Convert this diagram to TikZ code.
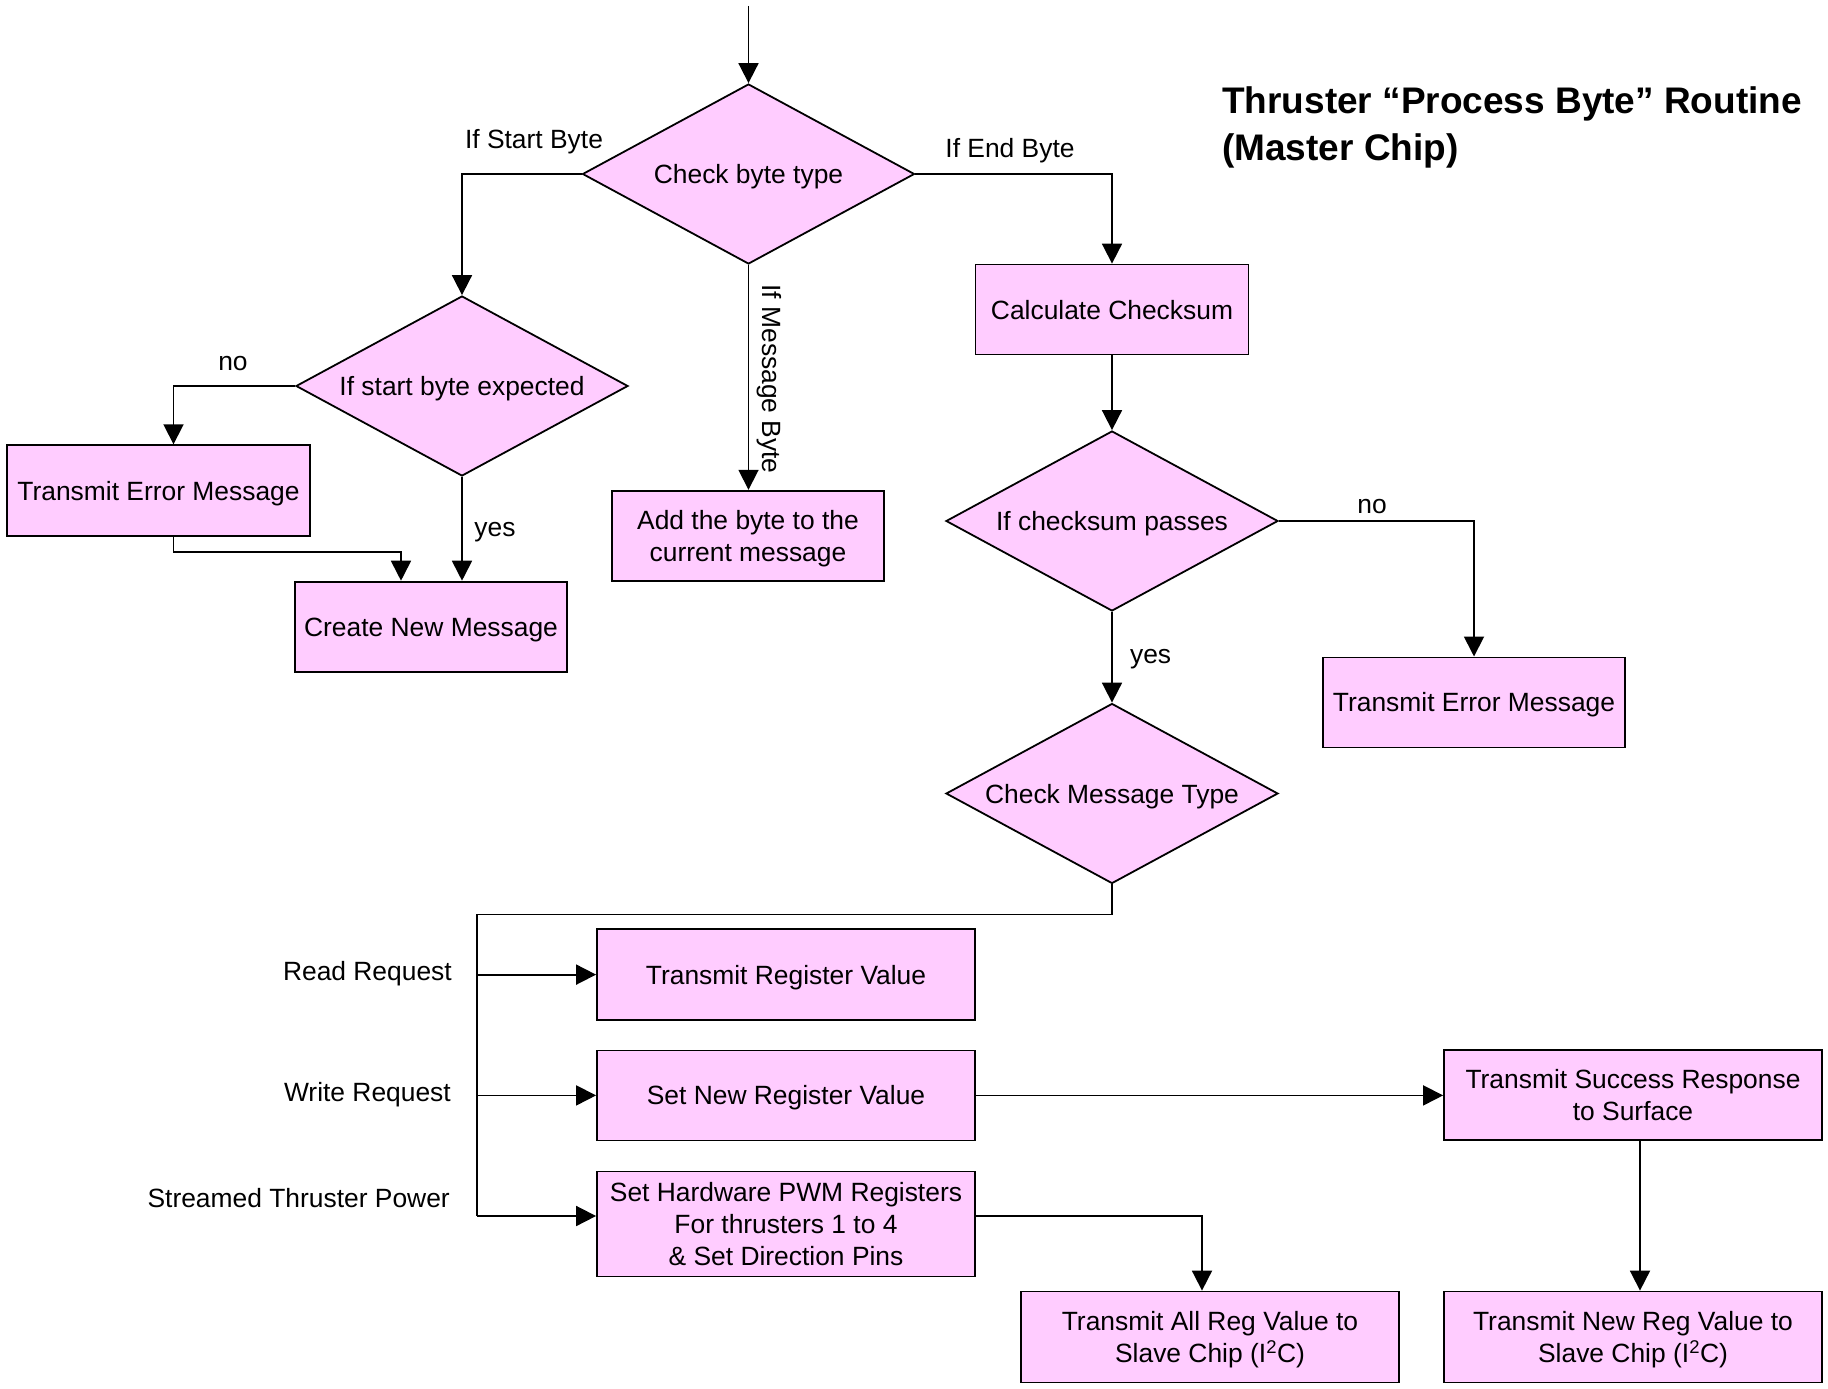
\documentclass[tikz,border=0pt]{standalone}
\usepackage{fontspec}
\setmainfont{Liberation Sans}
\usetikzlibrary{shapes.geometric,arrows.meta}
\definecolor{boxfill}{RGB}{255,204,255}
\begin{document}
\begin{tikzpicture}[x=1pt,y=-1pt,
  every node/.style={font=\fontsize{26.4}{32}\selectfont, text=black},
  oneline/.style={text height=19pt, text depth=0pt},
  procbox/.style={draw=black, line width=1.8pt, fill=boxfill, rectangle,
    inner sep=0pt, align=center},
  decision/.style={draw=black, line width=1.8pt, fill=boxfill, diamond,
    inner sep=0pt, shape aspect=1.844, minimum width=332pt, minimum height=180pt, oneline},
  lbl/.style={inner sep=0pt, oneline},
  conn/.style={draw=black, line width=1.8pt},
  arr/.style={conn, -{Triangle[length=20pt,width=20pt]}}]
\useasboundingbox (0,0) rectangle (1828,1389);

% title
\node[inner sep=0pt, anchor=west, align=left, font=\fontsize{37}{47}\selectfont\bfseries]
  (title) at (1222,127) {Thruster “Process Byte” Routine\\(Master Chip)};

% decisions
\node[decision] (d1) at (748.5,174) {Check byte type};
\node[decision] (d2) at (462,386) {If start byte expected};
\node[decision] (d3) at (1112,521) {If checksum passes};
\node[decision] (d4) at (1112,793.5) {Check Message Type};

% process boxes
\node[procbox, oneline, minimum width=303pt, minimum height=91pt] (tem1) at (158.5,490.7) {Transmit Error Message};
\node[procbox, oneline, minimum width=272pt, minimum height=90pt] (cnm) at (431,626.6) {Create New Message};
\node[procbox, text depth=-1.5pt, minimum width=272pt, minimum height=90pt] (atb) at (748,535.7) {Add the byte to the\\current message};
\node[procbox, oneline, minimum width=273pt, minimum height=90pt] (cc) at (1112,309.5) {Calculate Checksum};
\node[procbox, oneline, minimum width=302pt, minimum height=90pt] (tem2) at (1474,702.4) {Transmit Error Message};
\node[procbox, oneline, minimum width=378pt, minimum height=91pt] (trv) at (786,974.6) {Transmit Register Value};
\node[procbox, oneline, minimum width=378pt, minimum height=90pt] (snrv) at (786,1095.4) {Set New Register Value};
\node[procbox, minimum width=378pt, minimum height=105pt] (shp) at (786,1224) {Set Hardware PWM Registers\\For thrusters 1 to 4\\\& Set Direction Pins};
\node[procbox, text depth=-2.2pt, minimum width=378pt, minimum height=90pt] (tsr) at (1633,1095) {Transmit Success Response\\to Surface};
\node[procbox, text depth=-0.5pt, minimum width=378pt, minimum height=91pt] (tar) at (1210,1337) {Transmit All Reg Value to\\Slave Chip (I\textsuperscript{2}C)};
\node[procbox, text depth=-0.5pt, minimum width=378pt, minimum height=91pt] (tnr) at (1633,1337) {Transmit New Reg Value to\\Slave Chip (I\textsuperscript{2}C)};

% branch labels
\node[lbl] (lstart) at (534,139) {If Start Byte};
\node[lbl] (lend) at (1010,148) {If End Byte};
\node[lbl, rotate=-90] (lmsg) at (772,379) {If Message Byte};
\node[lbl] (lno1) at (233,361) {no};
\node[lbl] (lyes1) at (495,527) {yes};
\node[lbl] (lno2) at (1372,504) {no};
\node[lbl] (lyes2) at (1150.6,654) {yes};
\node[lbl, anchor=east] (lread) at (452,971) {Read Request};
\node[lbl, anchor=east] (lwrite) at (451,1092) {Write Request};
\node[lbl, anchor=east] (lstream) at (450,1198) {Streamed Thruster Power};

% entry
\coordinate (entry) at (748.5,6);
\draw[arr] (entry) -- (d1.north);

% byte type branches
\draw[arr] (d1.west) -| (d2.north);
\draw[arr] (d1.south) -- (d1.south |- atb.north);
\draw[arr] (d1.east) -| (cc.north);

% start byte handling
\draw[arr] (d2.west) -| ([xshift=15pt]tem1.north);
\draw[arr] (d2.south) -- (d2.south |- cnm.north);
\draw[arr] ([xshift=15pt]tem1.south) -- ++(0,15) -| ([xshift=-30pt]cnm.north);

% end byte handling
\draw[arr] (cc.south) -- (d3.north);
\draw[arr] (d3.east) -| (tem2.north);
\draw[arr] (d3.south) -- (d4.north);

% message type bus
\coordinate (busbot) at (476.8,1216);
\draw[conn] (d4.south) -- ++(0,30) -| (busbot);
\draw[arr] (trv.west -| busbot) -- (trv.west);
\draw[arr] (snrv.west -| busbot) -- (snrv.west);
\draw[arr] (busbot) -- (busbot -| shp.west);

% follow-up actions
\draw[arr] (snrv.east) -- (snrv.east -| tsr.west);
\draw[arr] ([xshift=7pt]tsr.south) -- ([xshift=7pt]tnr.north);
\draw[arr] (busbot -| shp.east) -| ([xshift=-8pt]tar.north);
\end{tikzpicture}
\end{document}
